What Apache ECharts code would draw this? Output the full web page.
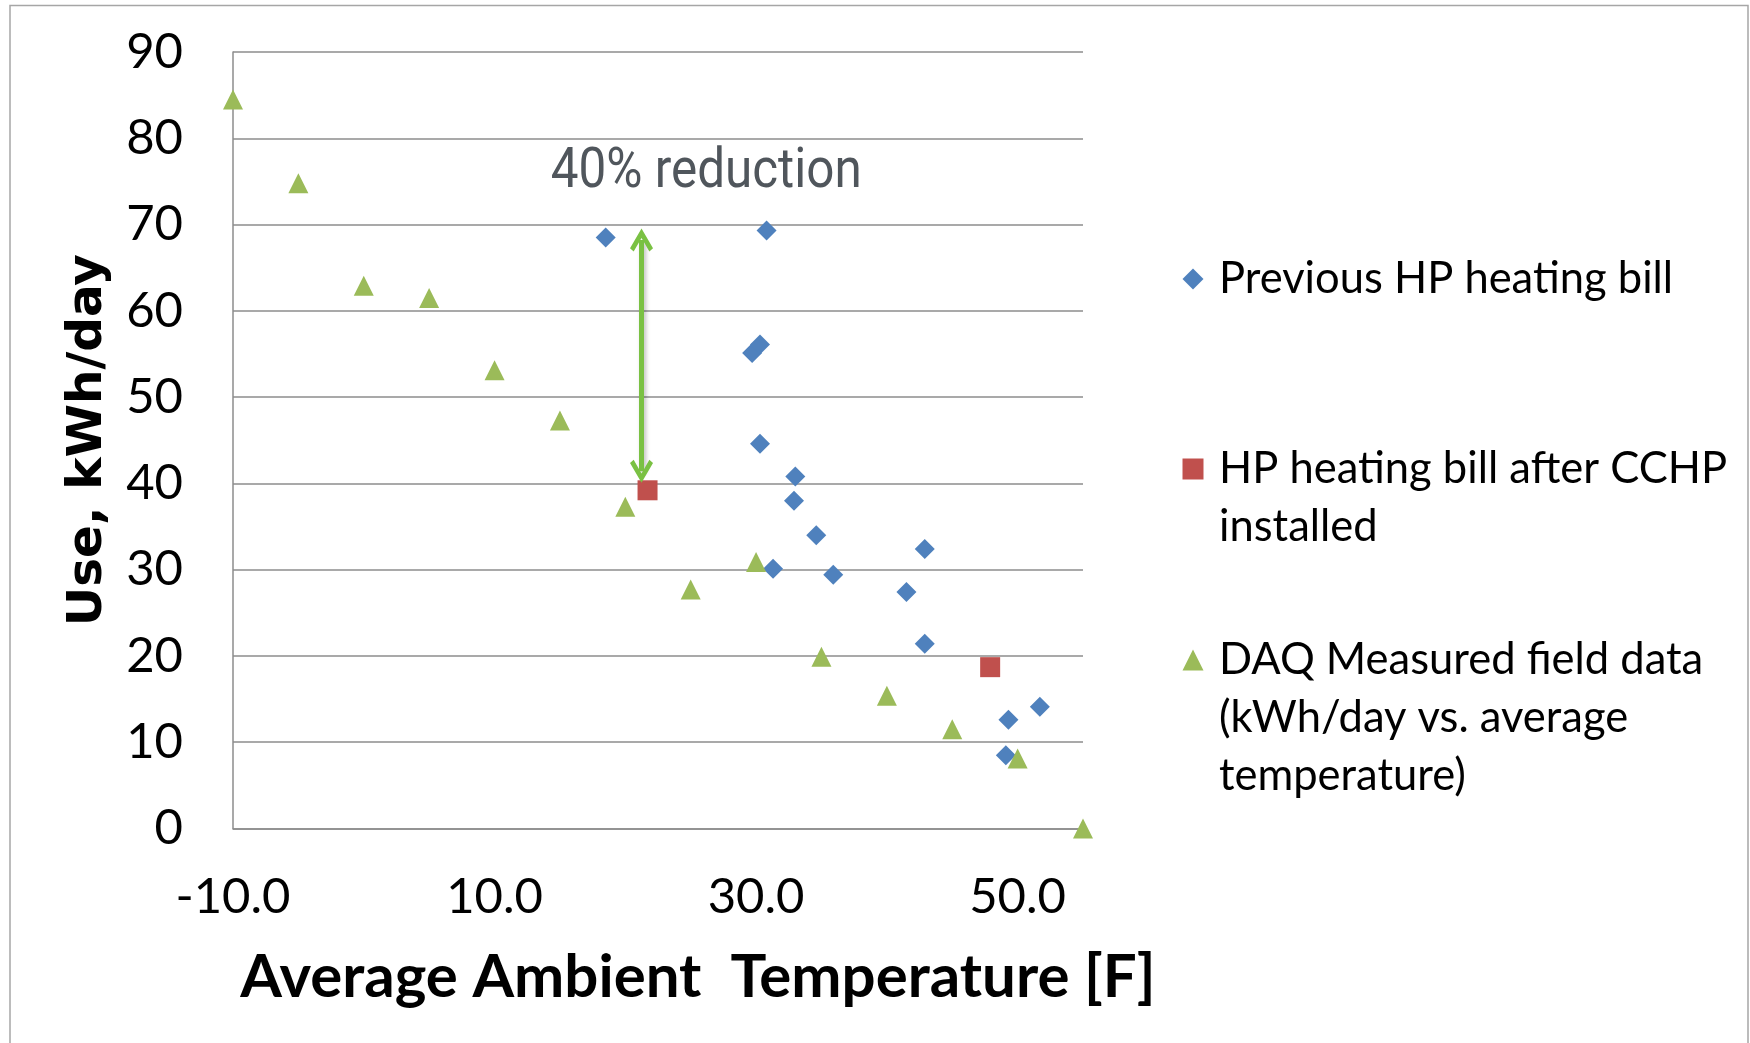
<!DOCTYPE html>
<html>
<head>
<meta charset="utf-8">
<script src="https://cdn.jsdelivr.net/npm/echarts@6/dist/echarts.min.js"></script>
<style>
html,body{margin:0;padding:0;background:#fff;}
#chart{width:1750px;height:1043px;}
</style>
</head>
<body>
<div id="chart"></div>
<script>
// ---- data ----
const prevX = [18.5, 30.8, 29.7, 30.3, 30.3, 33.0, 32.9, 34.6, 31.3, 35.9, 42.9, 41.5, 42.9, 49.3, 51.7, 49.1];
const prevY = [68.5, 69.3, 55.1, 56.1, 44.6, 40.8, 38.0, 34.0, 30.1, 29.4, 32.4, 27.4, 21.4, 12.6, 14.1, 8.5];
const afterX = [21.7, 47.9];
const afterY = [39.2, 18.7];
const daqX = [-10, -5, 0, 5, 10, 15, 20, 25, 30, 35, 40, 45, 50, 55];
const daqY = [84.5, 74.8, 62.9, 61.5, 53.1, 47.3, 37.3, 27.7, 30.9, 19.9, 15.4, 11.5, 8.1, 0];
const arrowX = [21.24, 21.24];
const arrowY = [68.2, 41.4];
const seriesNames = ['Previous HP heating bill', 'HP heating bill after CCHP installed', 'DAQ Measured field data (kWh/day vs. average temperature)'];
const legendLabels = ['Previous HP heating bill', 'HP heating bill after CCHP\ninstalled', 'DAQ Measured field data\n(kWh/day vs. average\ntemperature)'];
const annotationText = '40% reduction';
const xTitle = 'Average Ambient  Temperature [F]';
const yTitle = 'Use, kWh/day';

const zip = (xs, ys) => xs.map((x, i) => [x, ys[i]]);

const GRID = '#8c8c8c';
const LH = 58;
const chevron = 'path://M11,0 L22,18 L18.5,21 L11,8.5 L3.5,21 L0,18 Z';

// annotation: condensed look via horizontal scaling to the reference width
const annFont = '55px Roboto, "Noto Sans", sans-serif';
const mctx = document.createElement('canvas').getContext('2d');
mctx.font = annFont;
const annW = mctx.measureText(annotationText).width || 350;
const annScale = 311 / annW;

function makeLegend(i, centerY) {
  const lines = legendLabels[i].split('\n');
  const n = lines.length;
  const label = '\n'.repeat(n - 1) + legendLabels[i];
  return {
    show: true,
    orient: 'vertical',
    left: 1182.5,
    top: centerY - (2 * n - 1) * LH / 2,
    padding: 0,
    itemWidth: 21,
    itemHeight: 21,
    selectedMode: false,
    data: [{ name: seriesNames[i] }],
    formatter: () => label,
    textStyle: {
      fontFamily: 'Lato',
      fontSize: 43.5,
      color: '#000',
      lineHeight: LH,
      padding: [0, 0, 0, 10.5]
    }
  };
}

const chart = echarts.init(document.getElementById('chart'), null, { renderer: 'canvas' });
chart.setOption({
  backgroundColor: '#fff',
  animation: false,
  grid: { left: 233, right: 667, top: 52, bottom: 214.5, containLabel: false },
  xAxis: {
    type: 'value',
    min: -10, max: 55, interval: 20,
    axisLine: { show: true, onZero: false, lineStyle: { color: GRID, width: 1.5 } },
    axisTick: { show: false },
    splitLine: { show: false },
    axisLabel: {
      showMaxLabel: false,
      margin: 44,
      fontFamily: 'Lato', fontSize: 49, color: '#000',
      formatter: v => v.toFixed(1)
    },
    name: xTitle,
    nameLocation: 'middle',
    nameGap: 119,
    nameTextStyle: { fontFamily: 'Lato', fontWeight: 'bold', fontSize: 60, color: '#000', padding: [0, 0, 0, 80] }
  },
  yAxis: {
    type: 'value',
    min: 0, max: 90, interval: 10,
    axisLine: { show: true, onZero: false, lineStyle: { color: GRID, width: 1.5 } },
    axisTick: { show: false },
    splitLine: { show: true, lineStyle: { color: GRID, width: 1.5 } },
    axisLabel: { margin: 50, fontFamily: 'Lato', fontSize: 49, color: '#000' },
    name: yTitle,
    nameLocation: 'middle',
    nameGap: 120,
    nameTextStyle: { fontFamily: 'DejaVu Sans', fontWeight: 'bold', fontSize: 48.5, color: '#000' }
  },
  legend: [makeLegend(0, 279), makeLegend(1, 469), makeLegend(2, 660)],
  graphic: [
    { type: 'rect', shape: { x: 10, y: 5.5, width: 1738, height: 1100 }, style: { fill: 'none', stroke: '#a6a6a6', lineWidth: 1.5 }, silent: true, z: -1 },
    { type: 'text', x: 550.7, y: 173.5, scaleX: annScale, scaleY: 1,
      style: { text: annotationText, font: annFont, fill: '#50565c', textAlign: 'left', textVerticalAlign: 'middle', verticalAlign: 'middle' } }
  ],
  series: [
    {
      name: seriesNames[0], type: 'scatter', symbol: 'diamond', symbolSize: 20,
      itemStyle: { color: '#4f81bd', opacity: 1 },
      data: zip(prevX, prevY), z: 3
    },
    {
      name: seriesNames[1], type: 'scatter', symbol: 'rect', symbolSize: 20,
      itemStyle: { color: '#c0504d', opacity: 1 },
      data: zip(afterX, afterY), z: 3,
      markLine: {
        silent: true,
        symbol: [chevron, chevron],
        symbolSize: [23, 23],
        label: { show: false },
        lineStyle: { color: '#7ac143', width: 5, type: 'solid', opacity: 1, shadowBlur: 4, shadowColor: 'rgba(0,0,0,0.25)', shadowOffsetX: 2, shadowOffsetY: 2 },
        itemStyle: { color: '#7ac143' },
        data: [[{ coord: [arrowX[0], arrowY[0]] }, { coord: [arrowX[1], arrowY[1]] }]]
      }
    },
    {
      name: seriesNames[2], type: 'scatter', symbol: 'triangle', symbolSize: 20,
      itemStyle: { color: '#9bbb59', opacity: 1 },
      data: zip(daqX, daqY), z: 4
    }
  ]
});
</script>
</body>
</html>
